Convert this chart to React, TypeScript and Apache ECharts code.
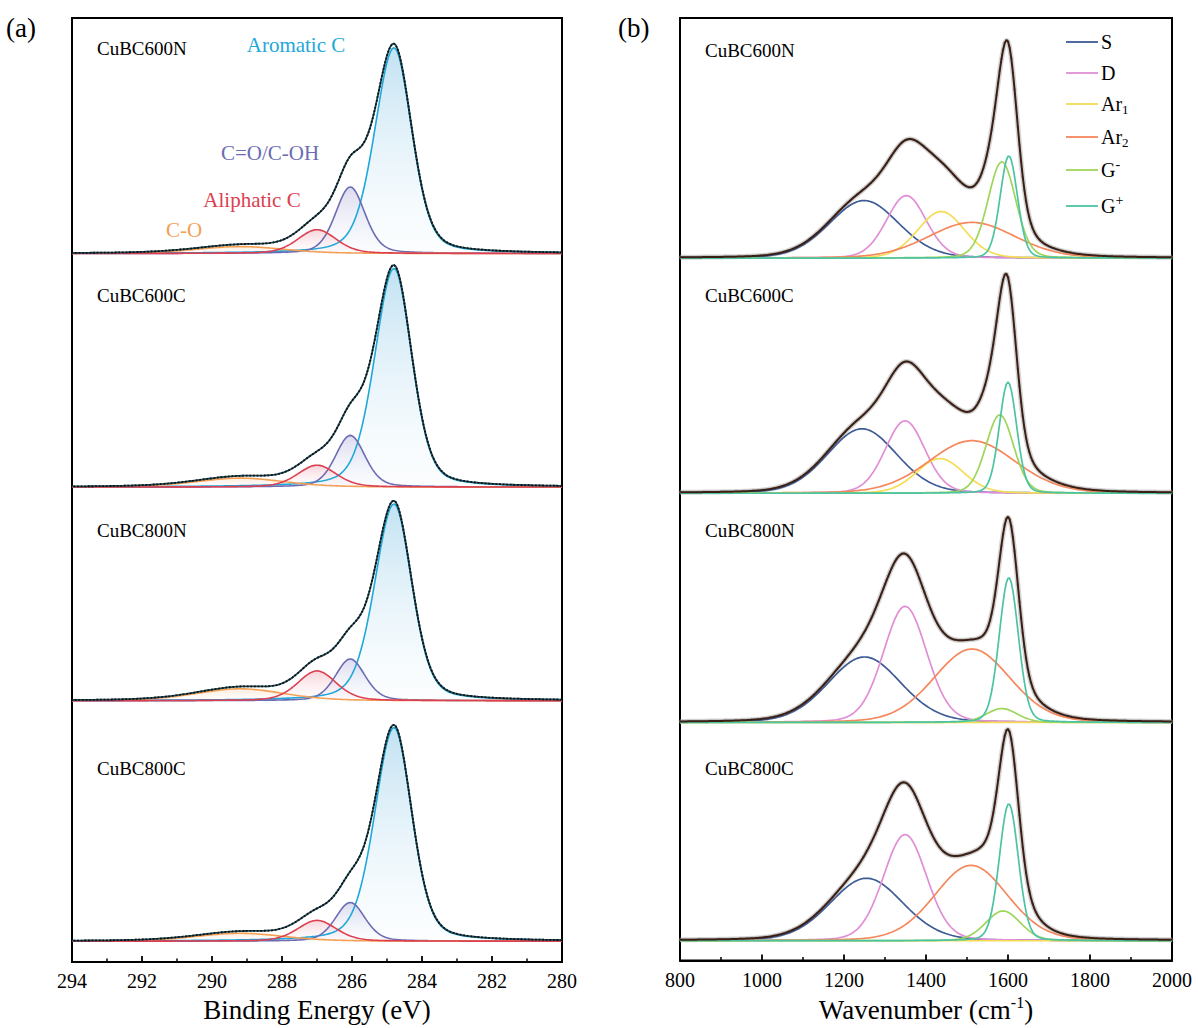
import React, { useEffect, useRef } from "react";
import * as echarts from "echarts";

const FONT = "'Times New Roman', 'Liberation Serif', serif";

// ---------- (a) XPS C 1s ----------
const xpsSamples = ["CuBC600N", "CuBC600C", "CuBC800N", "CuBC800C"];
const xpsOffsets = [713, 478, 263, 21]; // vertical stacking offsets (a.u.)
const xpsComponents = ["Aromatic C", "C=O/C-OH", "Aliphatic C", "C-O"];
const xpsCenters = [284.8, 286.05, 287.0, 289.2]; // eV
const xpsFwhmHighBE = [1.3, 1.0, 1.3, 3.0]; // eV
const xpsFwhmLowBE = [1.2, 1.0, 1.3, 3.0]; // eV
const xpsHeights = [
  [207, 67, 24, 7],
  [220, 52, 22, 9],
  [198, 42, 30, 12],
  [215, 39, 21, 8],
];
const xpsColors = ["#1fa8d9", "#6b6cb3", "#dc4050", "#f4a055"];

// ---------- (b) Raman ----------
const ramanSamples = ["CuBC600N", "CuBC600C", "CuBC800N", "CuBC800C"];
const ramanOffsets = [708, 471, 240, 20];
const ramanComponents = ["S", "D", "Ar1", "Ar2", "G-", "G+"];
const ramanCenters = [
  [1249, 1352, 1437, 1512, 1585, 1602],
  [1244, 1349, 1434, 1512, 1580, 1600],
  [1250, 1349, 1440, 1512, 1585, 1602],
  [1255, 1349, 1440, 1510, 1588, 1602],
];
const ramanFwhm = [
  [200, 115, 135, 250, 80, 50],
  [200, 115, 135, 250, 80, 50],
  [210, 125, 120, 220, 90, 55],
  [210, 125, 120, 210, 100, 55],
];
const ramanHeights = [
  [58, 63, 47, 36, 97, 103],
  [65, 73, 35, 53, 79, 112],
  [66, 117, 0, 74, 14, 146],
  [63, 107, 0, 76, 30, 138],
];
const ramanColors = ["#3d5b95", "#e08ed6", "#f5dc55", "#f5875c", "#9dd65a", "#4cc3a3"];

function peak(x: number, c: number, h: number, wHigh: number, wLow: number, eta: number) {
  const w = x > c ? wHigh : wLow;
  const t = (x - c) / (w / 2);
  return h * ((1 - eta) * Math.exp(-Math.LN2 * t * t) + eta / (1 + t * t));
}

const xpsX: number[] = [];
for (let k = 0; k <= 280; k++) xpsX.push(280 + k * 0.05);
const ramanX: number[] = [];
for (let k = 0; k <= 300; k++) ramanX.push(800 + k * 4);

const xpsFills = [
  ["rgba(110,185,225,0.6)", "rgba(225,242,250,0.15)"],
  ["rgba(140,140,205,0.45)", "rgba(235,235,248,0.1)"],
  ["rgba(225,100,120,0.4)", "rgba(252,225,230,0.1)"],
  ["rgba(245,175,110,0.35)", "rgba(252,235,220,0.1)"],
];

export default function App() {
  const ref = useRef<HTMLDivElement>(null);
  useEffect(() => {
    if (!ref.current) return;
    const chart = echarts.init(ref.current, undefined, { renderer: "svg" });
    const series: any[] = [];

    // XPS
    const xpsOrder = [0, 1, 3, 2];
    xpsSamples.forEach((s, i) => {
      const off = xpsOffsets[i];
      xpsOrder.forEach((j) => {
        series.push({
          name: xpsComponents[j],
          type: "line",
          xAxisIndex: 0,
          yAxisIndex: 0,
          showSymbol: false,
          silent: true,
          z: 2,
          data: xpsX.map((x) => [x, off + peak(x, xpsCenters[j], xpsHeights[i][j], xpsFwhmHighBE[j], xpsFwhmLowBE[j], 0.3)]),
          lineStyle: { color: xpsColors[j], width: 1.6 },
          areaStyle: {
            origin: off,
            color: new echarts.graphic.LinearGradient(0, 0, 0, 1, [
              { offset: 0, color: xpsFills[j][0] },
              { offset: 1, color: xpsFills[j][1] },
            ]),
          },
        });
      });
      const env = xpsX.map((x) => {
        let v = 0;
        for (let j = 0; j < xpsComponents.length; j++)
          v += peak(x, xpsCenters[j], xpsHeights[i][j], xpsFwhmHighBE[j], xpsFwhmLowBE[j], 0.3);
        return [x, off + v];
      });
      series.push({
        name: "Fit " + s,
        type: "line",
        xAxisIndex: 0,
        yAxisIndex: 0,
        showSymbol: false,
        silent: true,
        z: 3,
        data: env,
        lineStyle: { color: "#1a4755", width: 1.8 },
      });
      series.push({
        name: "Data " + s,
        type: "line",
        xAxisIndex: 0,
        yAxisIndex: 0,
        showSymbol: false,
        silent: true,
        z: 4,
        data: env,
        lineStyle: { color: "#111", width: 1.8, type: "dotted" },
      });
    });

    // Raman
    ramanSamples.forEach((s, i) => {
      const off = ramanOffsets[i];
      const env = ramanX.map((x) => {
        let v = 0;
        for (let j = 0; j < ramanComponents.length; j++)
          v += peak(x, ramanCenters[i][j], ramanHeights[i][j], ramanFwhm[i][j], ramanFwhm[i][j], 0.15);
        return [x, off + v];
      });
      series.push({
        name: "Data2 " + s,
        type: "line",
        xAxisIndex: 1,
        yAxisIndex: 1,
        showSymbol: true,
        symbol: "circle",
        symbolSize: 3,
        silent: true,
        z: 1,
        data: env,
        itemStyle: { color: "rgba(140,140,140,0.5)" },
        lineStyle: { color: "rgba(160,160,160,0.45)", width: 5 },
      });
      ramanComponents.forEach((c, j) => {
        series.push({
          name: c,
          type: "line",
          xAxisIndex: 1,
          yAxisIndex: 1,
          showSymbol: false,
          silent: true,
          z: 2,
          data: ramanX.map((x) => [x, off + peak(x, ramanCenters[i][j], ramanHeights[i][j], ramanFwhm[i][j], ramanFwhm[i][j], 0.15)]),
          lineStyle: { color: ramanColors[j], width: 1.7 },
        });
      });
      series.push({
        name: "Fit2 " + s,
        type: "line",
        xAxisIndex: 1,
        yAxisIndex: 1,
        showSymbol: false,
        silent: true,
        z: 3,
        data: env,
        lineStyle: { color: "#3b1f14", width: 2 },
      });
    });

    const graphic: any[] = [];
    graphic.push({ type: "text", x: 6, y: 14, style: { text: "(a)", font: `27px ${FONT}`, fill: "#000" } });
    graphic.push({ type: "text", x: 618, y: 14, style: { text: "(b)", font: `27px ${FONT}`, fill: "#000" } });
    const xpsLabelY = [48, 295, 530, 768];
    const ramanLabelY = [50, 295, 530, 768];
    xpsSamples.forEach((s, i) =>
      graphic.push({ type: "text", x: 97, y: xpsLabelY[i], style: { text: s, font: `19px ${FONT}`, fill: "#000", verticalAlign: "middle", textVerticalAlign: "middle" } })
    );
    ramanSamples.forEach((s, i) =>
      graphic.push({ type: "text", x: 705, y: ramanLabelY[i], style: { text: s, font: `19px ${FONT}`, fill: "#000", verticalAlign: "middle", textVerticalAlign: "middle" } })
    );
    const annPos = [
      [296, 45],
      [270, 153],
      [252, 200],
      [184, 230],
    ];
    xpsComponents.forEach((c, j) =>
      graphic.push({
        type: "text",
        x: annPos[j][0],
        y: annPos[j][1],
        style: { text: c, font: `21px ${FONT}`, fill: xpsColors[j], align: "center", textAlign: "center", verticalAlign: "middle", textVerticalAlign: "middle" },
      })
    );
    // legend
    const legendY = [42, 73, 104, 137, 170, 206];
    const legendText = ["S", "D", "Ar{sub|1}", "Ar{sub|2}", "G{sup|-}", "G{sup|+}"];
    ramanComponents.forEach((c, j) => {
      graphic.push({
        type: "line",
        shape: { x1: 1066, y1: legendY[j], x2: 1098, y2: legendY[j] },
        style: { stroke: ramanColors[j], lineWidth: 1.8 },
      });
      graphic.push({
        type: "text",
        x: 1101,
        y: legendY[j],
        style: {
          text: legendText[j],
          font: `20px ${FONT}`,
          fill: "#000",
          verticalAlign: "middle",
          textVerticalAlign: "middle",
          rich: {
            sub: { fontFamily: FONT, fontSize: 13, padding: [11, 0, 0, 0], fill: "#000" },
            sup: { fontFamily: FONT, fontSize: 14, padding: [0, 0, 11, 0], fill: "#000" },
          },
        },
      });
    });

    const axisCommon = {
      type: "value",
      splitLine: { show: false },
      axisLine: { onZero: false, lineStyle: { color: "#000", width: 2 } },
      axisTick: { inside: true, length: 6, lineStyle: { color: "#000", width: 1.8 } },
      minorTick: { show: true, splitNumber: 2, length: 3.5, lineStyle: { color: "#000", width: 1.5 } },
      axisLabel: { fontFamily: FONT, fontSize: 20, color: "#000", margin: 9, formatter: (v: number) => String(v) },
      nameLocation: "middle",
      nameGap: 29,
      nameTextStyle: {
        fontFamily: FONT,
        fontSize: 27,
        color: "#000",
        rich: { sup: { fontFamily: FONT, fontSize: 16, padding: [0, 0, 14, 0], color: "#000" } },
      },
    };

    chart.setOption({
      animation: false,
      backgroundColor: "#fff",
      grid: [
        { left: 72, right: 636, top: 18, bottom: 60, show: true, borderColor: "#000", borderWidth: 2, backgroundColor: "transparent" },
        { left: 680, right: 26, top: 18, bottom: 60, show: true, borderColor: "#000", borderWidth: 2, backgroundColor: "transparent" },
      ],
      xAxis: [
        { ...axisCommon, gridIndex: 0, min: 280, max: 294, interval: 2, inverse: true, name: "Binding Energy (eV)" },
        { ...axisCommon, gridIndex: 1, min: 800, max: 2000, interval: 200, name: "Wavenumber (cm{sup|-1})" },
      ],
      yAxis: [
        { type: "value", gridIndex: 0, min: 0, max: 950, show: false },
        { type: "value", gridIndex: 1, min: 0, max: 950, show: false },
      ],
      series,
      graphic,
    });
    return () => chart.dispose();
  }, []);
  return <div ref={ref} style={{ position: "absolute", left: 0, top: 0, width: 1198, height: 1028 }} />;
}
